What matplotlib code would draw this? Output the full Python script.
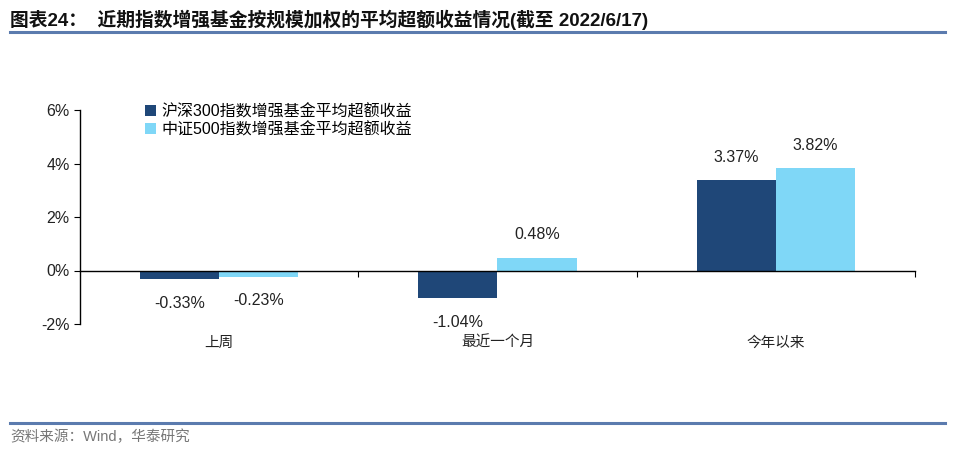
import matplotlib
matplotlib.use("Agg")
import matplotlib.pyplot as plt
import numpy as np

categories = ["上周", "最近一个月", "今年以来"]
series_names = ["沪深300指数增强基金平均超额收益", "中证500指数增强基金平均超额收益"]
hs300 = [-0.33, -1.04, 3.37]
zz500 = [-0.23, 0.48, 3.82]
y_ticks = [-2, 0, 2, 4, 6]

plt.rcParams["font.family"] = ["Liberation Sans", "Noto Sans CJK SC"]

dark = "#1F4778"
light = "#7FD7F7"
line_c = "#5B7BAE"

fig = plt.figure(figsize=(9.62, 4.51), dpi=100)
ax = fig.add_axes([80 / 962, 1 - 324 / 451, (915 - 80) / 962, (324 - 110) / 451])

x = np.arange(len(categories))
w = 0.285
b1 = ax.bar(x - w / 2, hs300, w, color=dark, label=series_names[0], zorder=2)
b2 = ax.bar(x + w / 2, zz500, w, color=light, label=series_names[1], zorder=2)

for bars, vals in ((b1, hs300), (b2, zz500)):
    for r, v in zip(bars, vals):
        off = 11 if v >= 0 else -12
        ax.annotate(f"{v:.2f}%", (r.get_x() + r.get_width() / 2, v),
                    xytext=(0, off), textcoords="offset points",
                    ha="center", va="bottom" if v >= 0 else "top",
                    fontsize=11.5, color="#222222")

ax.set_xlim(-0.5, 2.5)
ax.set_ylim(-2, 6)
ax.set_yticks(y_ticks)
ax.set_yticklabels([f"{t}%" for t in y_ticks], fontsize=11.5, color="#222222")

ax.spines["top"].set_visible(False)
ax.spines["right"].set_visible(False)
ax.spines["bottom"].set_position(("data", 0))
ax.spines["left"].set_linewidth(1.0)
ax.spines["bottom"].set_linewidth(1.0)
ax.set_xticks([0.5, 1.5, 2.5])
ax.set_xticklabels([])
ax.tick_params(axis="x", direction="out", length=4)
ax.tick_params(axis="y", direction="out", length=4)

# category labels sit below the plot, not at the zero line
for xi, c in zip(x, categories):
    ax.text(xi, -2.45, c, ha="center", va="top", fontsize=10.5, color="#222222",
            fontfamily="Noto Sans CJK SC")

ax.legend(loc="upper left", bbox_to_anchor=(145 / 962, 1 - 104 / 451),
          bbox_transform=fig.transFigure, frameon=False, fontsize=11.5,
          handlelength=0.7, handleheight=0.7, handletextpad=0.3,
          labelspacing=0.15, borderpad=0, borderaxespad=0)

fig.text(10 / 962, 1 - 20 / 451, "图表24：  近期指数增强基金按规模加权的平均超额收益情况(截至 2022/6/17)",
         fontsize=13.5, fontweight="bold", va="center", ha="left",
         color="#111111")
fig.add_artist(plt.Line2D([10 / 962, 945 / 962], [1 - 32 / 451, 1 - 32 / 451],
                          color=line_c, linewidth=2.2, transform=fig.transFigure))
fig.add_artist(plt.Line2D([10 / 962, 945 / 962], [1 - 423 / 451, 1 - 423 / 451],
                          color=line_c, linewidth=2.2, transform=fig.transFigure))
fig.text(10 / 962, 1 - 437 / 451, "资料来源：Wind，华泰研究", fontsize=10.5,
         va="center", ha="left", color="#777777")

fig.savefig("out.png", dpi=100)
